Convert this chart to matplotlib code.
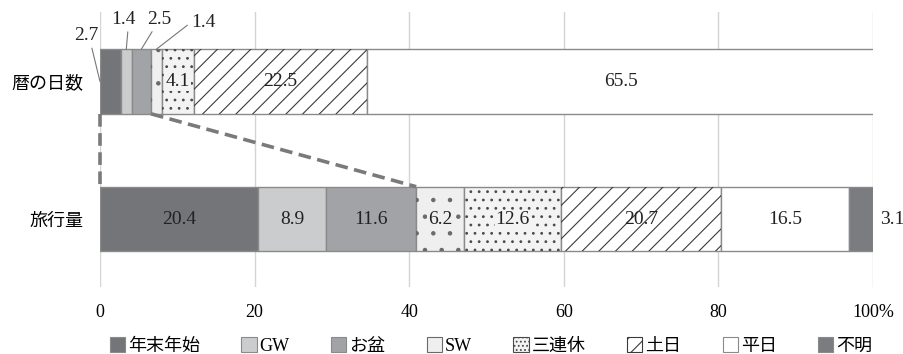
import matplotlib
matplotlib.use("Agg")
import matplotlib.pyplot as plt
from matplotlib.patches import Patch
import numpy as np

plt.rcParams['font.family'] = ['Liberation Serif', 'Noto Sans CJK JP']
plt.rcParams['hatch.linewidth'] = 0.8

categories = ["暦の日数", "旅行量"]
series_names = ["年末年始", "GW", "お盆", "SW", "三連休", "土日", "平日", "不明"]
calendar_days = [2.7, 1.4, 2.5, 1.4, 4.1, 22.5, 65.5, 0.0]
travel_volume = [20.4, 8.9, 11.6, 6.2, 12.6, 20.7, 16.5, 3.1]
x_ticks = [0, 20, 40, 60, 80, 100]
x_tick_labels = ["0", "20", "40", "60", "80", "100%"]

face_colors = ["#747578", "#cbcccd", "#a2a3a6", "#efefef", "#f3f3f3", "#ffffff", "#ffffff", "#7b7c7f"]
hatches = [None, None, None, ".", "..", "//", None, None]
legend_hatches = [None, None, None, None, "....", "//", None, None]
hatch_cols = [None, None, None, "#6a6a6a", "#4a4a4a", "#3a3a3a", None, None]
edge_col = "#8a8a8a"

fig = plt.figure(figsize=(9.04, 3.54), dpi=100)
W, H = 904, 354
ax = fig.add_axes([100 / W, (H - 287) / H, (873 - 100) / W, (287 - 12) / H])

bar_h = 0.47
data = [calendar_days, travel_volume]
ypos = [0, 1]

for yi, vals in zip(ypos, data):
    left = 0.0
    for i, v in enumerate(vals):
        if v <= 0:
            continue
        ax.barh(yi, v, left=left, height=bar_h, color=face_colors[i],
                edgecolor=edge_col, linewidth=1.0, zorder=2)
        if hatches[i]:
            ax.barh(yi, v, left=left, height=bar_h, color="none",
                    edgecolor=hatch_cols[i], linewidth=0, hatch=hatches[i], zorder=3)
        left += v

ax.set_xlim(0, 100)
ax.set_ylim(1 + (287 - 219) / 137.5, 0 - (81.5 - 12) / 137.5)
ax.set_xticks(x_ticks)
ax.set_xticklabels(x_tick_labels, fontsize=13)
ax.set_yticks(ypos)
ax.set_yticklabels(categories, fontsize=13)
ax.tick_params(axis='both', length=0)
ax.tick_params(axis='x', pad=12)
ax.tick_params(axis='y', pad=12)
for s in ax.spines.values():
    s.set_visible(False)
ax.grid(axis='x', color="#d4d4d4", linewidth=1.0, zorder=0)
ax.set_axisbelow(True)

# value labels
num_fs = 14
cum1 = np.cumsum([0] + calendar_days)
cum2 = np.cumsum([0] + travel_volume)

# bar 1 inside labels
for i in [4, 5, 6]:
    c = (cum1[i] + cum1[i + 1]) / 2
    bb = None
    if hatches[i] in (".", ".."):
        bb = dict(boxstyle="square,pad=0.05", facecolor=face_colors[i], edgecolor="none")
    ax.text(c, 0, f"{calendar_days[i]}", ha="center", va="center", fontsize=num_fs,
            color="#222222", zorder=5, bbox=bb)

# bar 1 outside labels with leader lines
top0 = 0 - bar_h / 2
lead = dict(arrowstyle="-", color="#777777", lw=0.8, shrinkA=1, shrinkB=0)
ax.annotate(f"{calendar_days[0]}", xy=(cum1[0], 0), xytext=(-14, 46),
            textcoords="offset pixels", ha="center", va="center", fontsize=num_fs,
            color="#222222", arrowprops=dict(lead, relpos=(0.7, 0.0)), zorder=5)
ax.annotate(f"{calendar_days[1]}", xy=((cum1[1] + cum1[2]) / 2, top0), xytext=(-3, 30),
            textcoords="offset pixels", ha="center", va="center", fontsize=num_fs,
            color="#222222", arrowprops=dict(lead, relpos=(0.7, 0.0)), zorder=5)
ax.annotate(f"{calendar_days[2]}", xy=((cum1[2] + cum1[3]) / 2, top0), xytext=(18, 30),
            textcoords="offset pixels", ha="center", va="center", fontsize=num_fs,
            color="#222222", arrowprops=dict(lead, relpos=(0.3, 0.0)), zorder=5)
ax.annotate(f"{calendar_days[3]}", xy=((cum1[3] + cum1[4]) / 2, top0), xytext=(47, 27),
            textcoords="offset pixels", ha="center", va="center", fontsize=num_fs,
            color="#222222", arrowprops=dict(lead, relpos=(0.0, 0.5)), zorder=5)

# bar 2 labels
for i in range(7):
    c = (cum2[i] + cum2[i + 1]) / 2
    bb = None
    if hatches[i] in (".", ".."):
        bb = dict(boxstyle="square,pad=0.05", facecolor=face_colors[i], edgecolor="none")
    ax.text(c, 1, f"{travel_volume[i]}", ha="center", va="center", fontsize=num_fs,
            color="#222222", zorder=5, bbox=bb)
ax.annotate(f"{travel_volume[7]}", xy=(cum2[8], 1), xytext=(7, 0),
            textcoords="offset pixels", ha="left", va="center", fontsize=num_fs,
            color="#222222", annotation_clip=False)

# dashed connectors (expansion of holiday segments)
dash_kw = dict(color="#7a7a7a", linewidth=2.6, linestyle=(0, (3.5, 1.8)), zorder=4,
               clip_on=False)
ax.plot([cum1[0], cum2[0]], [0 + bar_h / 2, 1 - bar_h / 2], **dash_kw)
ax.plot([cum1[3], cum2[3]], [0 + bar_h / 2, 1 - bar_h / 2], **dash_kw)

# legend
handles = []
for i, name in enumerate(series_names):
    handles.append(Patch(facecolor=face_colors[i],
                         edgecolor=hatch_cols[i] if hatches[i] else edge_col,
                         linewidth=0.8, hatch=legend_hatches[i], label=name))
fig.legend(handles=handles, loc="center", bbox_to_anchor=(491 / W, 8 / H), ncol=8,
           frameon=False, fontsize=13, handlelength=0.85, handleheight=0.85,
           handletextpad=0.15, columnspacing=2.3, borderpad=0)

fig.savefig("out.png", dpi=100)
